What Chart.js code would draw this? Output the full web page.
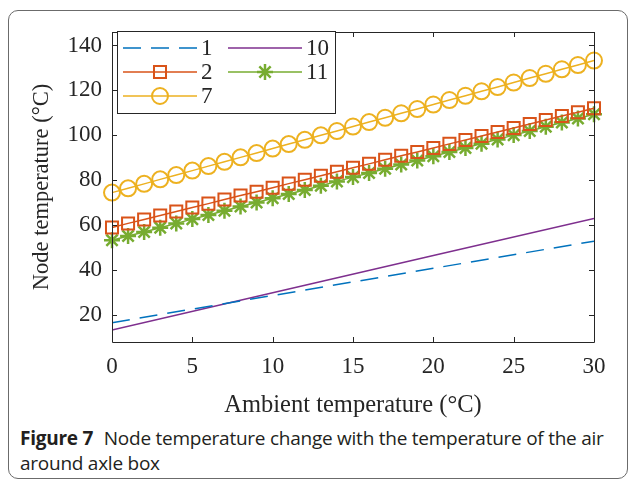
<!DOCTYPE html>
<html>
<head>
<meta charset="utf-8">
<title>Node temperature vs ambient temperature</title>
<script src="https://cdn.jsdelivr.net/npm/chart.js@4.4.1/dist/chart.umd.min.js"></script>
<style>
    html, body { margin: 0; padding: 0; background: #fff; }
    #frame {
        position: absolute; left: 8px; top: 10px; width: 618px; height: 467px;
        border: 1px solid #6b6b6b; border-radius: 10px;
    }
    #wrap { position: absolute; left: 0; top: 0; width: 630px; height: 420px; }
    #caption {
        position: absolute; left: 20px; top: 426px;
        font-family: "Open Sans", sans-serif; font-size: 19px; line-height: 25px;
        color: #231f20; white-space: nowrap; letter-spacing: -0.25px;
    }
    #caption b { font-weight: 700; margin-right: 6px; }
</style>
</head>
<body>
<div id="frame"></div>
<div id="wrap"><canvas id="nodeTempChart" width="630" height="420"></canvas></div>
<div id="caption"><b>Figure 7</b> Node temperature change with the temperature of the air<br>around axle box</div>

<script>
// ambient temperature (x axis)
var ambient = [0, 1, 2, 3, 4, 5, 6, 7, 8, 9, 10, 11, 12, 13, 14, 15,
               16, 17, 18, 19, 20, 21, 22, 23, 24, 25, 26, 27, 28, 29, 30];

// node temperatures
var node2  = [59.0, 60.8, 62.5, 64.3, 66.1, 67.9, 69.6, 71.4, 73.2, 74.9, 76.7,
              78.5, 80.2, 82.0, 83.8, 85.6, 87.3, 89.1, 90.9, 92.6, 94.4,
              96.2, 97.9, 99.7, 101.5, 103.3, 105.0, 106.8, 108.6, 110.3, 112.1];
var node7  = [74.5, 76.4, 78.4, 80.4, 82.3, 84.3, 86.3, 88.2, 90.2, 92.1, 94.1,
              96.1, 98.0, 100.0, 101.9, 103.9, 105.9, 107.8, 109.8, 111.7, 113.7,
              115.7, 117.6, 119.6, 121.5, 123.5, 125.5, 127.4, 129.4, 131.3, 133.3];
var node11 = [53.3, 55.2, 57.0, 58.9, 60.8, 62.7, 64.5, 66.4, 68.3, 70.1, 72.0,
              73.9, 75.7, 77.6, 79.5, 81.4, 83.2, 85.1, 87.0, 88.8, 90.7,
              92.6, 94.4, 96.3, 98.2, 100.1, 101.9, 103.8, 105.7, 107.5, 109.4];

// plain lines (no markers)
var lineX  = [0, 10, 20, 30];
var node1  = [16.6, 28.7, 40.8, 52.9];
var node10 = [13.3, 29.9, 46.5, 63.0];

var xTicks = [0, 5, 10, 15, 20, 25, 30];
var yTicks = [20, 40, 60, 80, 100, 120, 140];

var serif = '"Liberation Serif", "Times New Roman", serif';
var axisColor = '#262626';

function toPoints(xs, ys) {
    return xs.map(function(x, i) { return { x: x, y: ys[i] }; });
}

// frame with inward ticks on all four sides
var boxPlugin = {
    id: 'box',
    afterDatasetsDraw: function(chart) {
        var ctx = chart.ctx, a = chart.chartArea;
        var xs = chart.scales.x, ys = chart.scales.y;
        var len = 5;
        ctx.save();
        ctx.strokeStyle = axisColor;
        ctx.lineWidth = 1;
        ctx.beginPath();
        ctx.rect(a.left + 0.5, a.top + 0.5, a.right - a.left, a.bottom - a.top);
        xTicks.forEach(function(v) {
            var px = Math.round(xs.getPixelForValue(v)) + 0.5;
            ctx.moveTo(px, a.bottom); ctx.lineTo(px, a.bottom - len);
            ctx.moveTo(px, a.top); ctx.lineTo(px, a.top + len);
        });
        yTicks.forEach(function(v) {
            var py = Math.round(ys.getPixelForValue(v)) + 0.5;
            ctx.moveTo(a.left, py); ctx.lineTo(a.left + len, py);
            ctx.moveTo(a.right, py); ctx.lineTo(a.right - len, py);
        });
        ctx.stroke();
        ctx.restore();
    }
};

// two column legend box in the top left corner
var legendPlugin = {
    id: 'boxLegend',
    afterDraw: function(chart) {
        var ctx = chart.ctx, a = chart.chartArea;
        var order = [0, 2, 4, 1, 3]; // 1, 2, 7 | 10, 11
        var bx = a.left + 5, by = a.top - 1, bw = 218, bh = 82;
        ctx.save();
        ctx.fillStyle = '#fff';
        ctx.fillRect(bx, by, bw, bh);
        ctx.strokeStyle = axisColor;
        ctx.lineWidth = 1;
        ctx.strokeRect(bx + 0.5, by + 0.5, bw, bh);
        ctx.font = '23px ' + serif;
        ctx.textBaseline = 'middle';
        ctx.fillStyle = axisColor;
        order.forEach(function(di, i) {
            var ds = chart.data.datasets[di];
            var col = i < 3 ? 0 : 1, row = i < 3 ? i : i - 3;
            var x0 = bx + 6 + col * 105, x1 = x0 + 74;
            var y = by + 17 + row * 24;
            ctx.save();
            ctx.strokeStyle = ds.borderColor;
            ctx.lineWidth = ds.borderWidth;
            ctx.setLineDash(ds.borderDash || []);
            ctx.beginPath();
            ctx.moveTo(x0, y); ctx.lineTo(x1, y);
            ctx.stroke();
            ctx.setLineDash([]);
            if (ds.pointRadius > 0) {
                ctx.strokeStyle = ds.borderColor;
                ctx.fillStyle = 'rgba(0,0,0,0)';
                ctx.lineWidth = ds.pointBorderWidth;
                Chart.helpers.drawPoint(ctx, {
                    pointStyle: ds.pointStyle, radius: ds.pointRadius,
                    rotation: 0, borderWidth: ds.pointBorderWidth
                }, (x0 + x1) / 2, y);
            }
            ctx.restore();
            ctx.fillText(ds.label, x1 + 4, y + 1);
        });
        ctx.restore();
    }
};

var ctx = document.getElementById('nodeTempChart').getContext('2d');
new Chart(ctx, {
    type: 'line',
    data: {
        datasets: [{
            label: '1',
            data: toPoints(lineX, node1),
            borderColor: '#0072BD',
            borderWidth: 1.5,
            borderDash: [18, 10],
            pointRadius: 0
        }, {
            label: '10',
            data: toPoints(lineX, node10),
            borderColor: '#7E2F8E',
            borderWidth: 1.5,
            pointRadius: 0
        }, {
            label: '2',
            data: toPoints(ambient, node2),
            borderColor: '#D95319',
            borderWidth: 1.5,
            pointStyle: 'rect',
            pointRadius: 8.5,
            pointBorderWidth: 2,
            pointBackgroundColor: 'rgba(0,0,0,0)',
            pointBorderColor: '#D95319',
            clip: false
        }, {
            label: '11',
            data: toPoints(ambient, node11),
            borderColor: '#77AC30',
            borderWidth: 1.5,
            pointStyle: 'star',
            pointRadius: 8,
            pointBorderWidth: 2.5,
            pointBorderColor: '#77AC30',
            clip: false
        }, {
            label: '7',
            data: toPoints(ambient, node7),
            borderColor: '#EDB120',
            borderWidth: 1.5,
            pointStyle: 'circle',
            pointRadius: 8,
            pointBorderWidth: 2,
            pointBackgroundColor: 'rgba(0,0,0,0)',
            pointBorderColor: '#EDB120',
            clip: false
        }]
    },
    options: {
        responsive: false,
        animation: false,
        events: [],
        layout: { padding: { left: 0, right: 36, top: 32, bottom: 0 } },
        plugins: {
            legend: { display: false },
            tooltip: { enabled: false }
        },
        scales: {
            x: {
                type: 'linear',
                min: 0,
                max: 30,
                afterBuildTicks: function(s) { s.ticks = xTicks.map(function(v) { return { value: v }; }); },
                afterFit: function(s) { s.height = 78; },
                grid: { display: false, drawTicks: false },
                border: { display: false },
                ticks: { padding: 11, color: axisColor, font: { family: serif, size: 23 } },
                title: {
                    display: true,
                    text: 'Ambient temperature (°C)',
                    color: axisColor,
                    font: { family: serif, size: 24.5 },
                    padding: { top: 11, bottom: 0 }
                }
            },
            y: {
                min: 8,
                max: 146,
                afterBuildTicks: function(s) { s.ticks = yTicks.map(function(v) { return { value: v }; }); },
                afterFit: function(s) { s.width = 112; },
                grid: { display: false, drawTicks: false },
                border: { display: false },
                ticks: { padding: 10, color: axisColor, font: { family: serif, size: 23 } },
                title: {
                    display: true,
                    text: 'Node temperature (°C)',
                    color: axisColor,
                    font: { family: serif, size: 22.5 },
                    padding: { top: 29, bottom: 0 }
                }
            }
        }
    },
    plugins: [boxPlugin, legendPlugin]
});
</script>
</body>
</html>
